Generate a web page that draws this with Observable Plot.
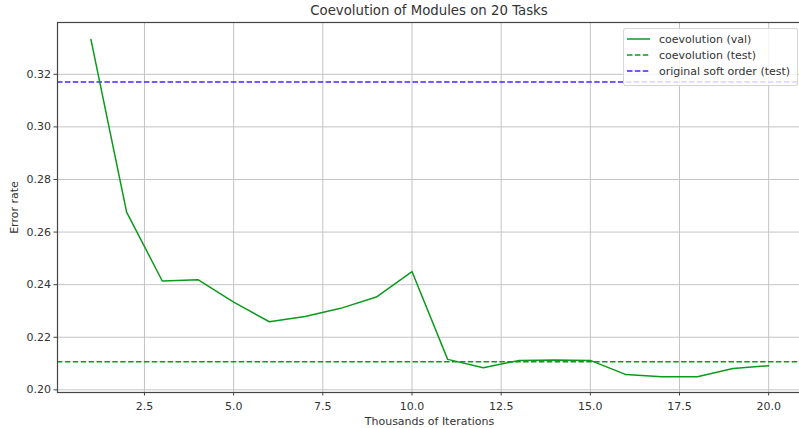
<!DOCTYPE html>
<html><head><meta charset="utf-8">
<script src="https://cdn.jsdelivr.net/npm/d3@7"></script>
<script src="https://cdn.jsdelivr.net/npm/@observablehq/plot@0.6"></script>
<style>
body{margin:0;background:#fff;font-family:"DejaVu Sans",sans-serif;}
#wrap{position:relative;width:799px;height:428px;overflow:hidden;background:#fff}
#title{position:absolute;left:57px;width:744px;top:3px;text-align:center;font-size:13.3px;color:#333;white-space:nowrap}
#chart{position:absolute;left:0;top:20px}
#legend{position:absolute;left:623px;top:28px;width:173px;height:56px;background:rgba(255,255,255,0.8);border:1px solid rgba(204,204,204,0.8);border-radius:3px;font-size:11px;color:#333}
.row{position:absolute;left:3px;height:16px;display:flex;align-items:center;white-space:nowrap}
.row svg{margin-right:9px}
</style></head>
<body><div id="wrap"><div id="title"></div><div id="chart"></div><div id="legend"></div></div>
<script>
const chartTitle = "Coevolution of Modules on 20 Tasks";
const xLabel = "Thousands of Iterations";
const yLabel = "Error rate";
const iterations = [1,2,3,4,5,6,7,8,9,10,11,12,13,14,15,16,17,18,19,20];
const valError = [0.3332,0.2676,0.2414,0.2419,0.2334,0.2259,0.2279,0.2310,0.2353,0.2450,0.2116,0.2084,0.2112,0.2114,0.2112,0.2058,0.2050,0.2050,0.2081,0.2092];
const coevolutionTest = 0.2107;
const softOrderTest = 0.3171;
const seriesNames = ["coevolution (val)","coevolution (test)","original soft order (test)"];
const seriesColors = ["#0c9a1c","#0c9a1c","#4a22ff"];
const seriesDash = [null,"5.5,2.4","5.5,2.4"];
const xTicks = [2.5,5.0,7.5,10.0,12.5,15.0,17.5,20.0];
const yTicks = [0.20,0.22,0.24,0.26,0.28,0.30,0.32];

document.getElementById("title").textContent = chartTitle;
const data = iterations.map((x,i)=>({x, y: valError[i]}));
const grid = "#c4c4c4";
const ink = "#333";

const plot = Plot.plot({
  width: 799, height: 408,
  marginLeft: 57, marginRight: -2, marginTop: 2, marginBottom: 36,
  x: {domain: [0.062, 20.92]},
  y: {domain: [0.1990, 0.3397]},
  style: {fontFamily: "DejaVu Sans", fontSize: "11px", color: ink, background: "#fff"},
  marks: [
    Plot.gridX(xTicks, {stroke: grid, strokeOpacity: 1, strokeWidth: 1}),
    Plot.gridY(yTicks, {stroke: grid, strokeOpacity: 1, strokeWidth: 1}),
    Plot.ruleY([coevolutionTest], {stroke: seriesColors[1], strokeWidth: 1.5, strokeDasharray: seriesDash[1]}),
    Plot.ruleY([softOrderTest], {stroke: seriesColors[2], strokeWidth: 1.5, strokeDasharray: seriesDash[2]}),
    Plot.line(data, {x: "x", y: "y", stroke: seriesColors[0], strokeWidth: 1.5}),
    Plot.frame({stroke: "#444", strokeWidth: 1.2}),
    Plot.axisX(xTicks, {tickSize: 3.5, tickPadding: 6, tickFormat: d => d.toFixed(1), label: null, stroke: "#444", fill: ink}),
    Plot.axisY(yTicks, {tickSize: 3.5, tickPadding: 3, tickFormat: d => d.toFixed(2), label: null, stroke: "#444", fill: ink}),
    Plot.text([xLabel], {frameAnchor: "bottom", dy: 28.5, text: d => d, textAnchor: "middle", lineAnchor: "middle", fill: ink}),
    Plot.text([yLabel], {frameAnchor: "left", dx: -43, rotate: -90, text: d => d, textAnchor: "middle", lineAnchor: "middle", fill: ink})
  ]
});
document.getElementById("chart").appendChild(plot);

const legend = document.getElementById("legend");
seriesNames.forEach((name, i) => {
  const row = document.createElement("div");
  row.className = "row";
  row.style.top = (2 + i * 16) + "px";
  const dash = seriesDash[i] ? `stroke-dasharray="${seriesDash[i]}"` : "";
  row.innerHTML = `<svg width="23" height="6"><line x1="0" x2="23" y1="3" y2="3" stroke="${seriesColors[i]}" stroke-width="1.5" ${dash}/></svg><span>${name}</span>`;
  legend.appendChild(row);
});
</script>
</body></html>
